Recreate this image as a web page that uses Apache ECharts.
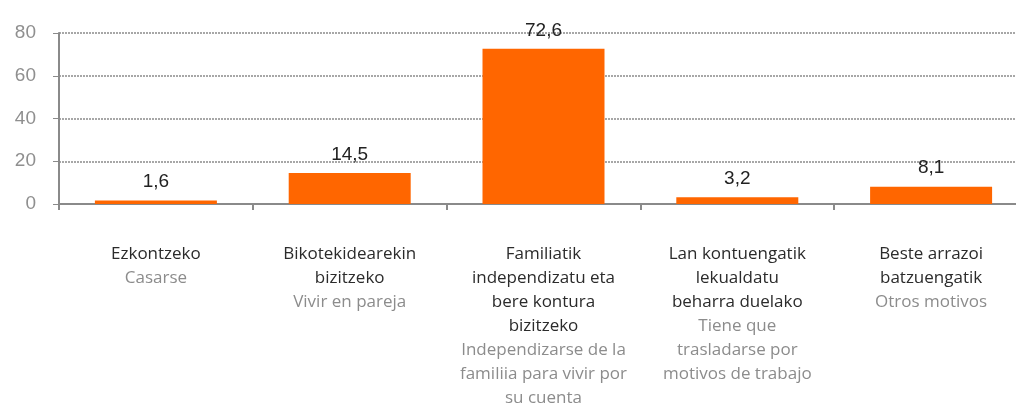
<!DOCTYPE html>
<html>
<head>
<meta charset="utf-8">
<script src="https://cdn.jsdelivr.net/npm/echarts@6/dist/echarts.min.js"></script>
<style>
  html, body { margin: 0; padding: 0; background: #fff; }
  #chart { width: 1016px; height: 405px; }
</style>
</head>
<body>
<div id="chart"></div>
<script>
// etiquetas en euskera y castellano
const etiquetasEu = [
  'Ezkontzeko',
  'Bikotekidearekin\nbizitzeko',
  'Familiatik\nindependizatu eta\nbere kontura\nbizitzeko',
  'Lan kontuengatik\nlekualdatu\nbeharra duelako',
  'Beste arrazoi\nbatzuengatik'
];
const etiquetasEs = [
  'Casarse',
  'Vivir en pareja',
  'Independizarse de la\nfamiliia para vivir por\nsu cuenta',
  'Tiene que\ntrasladarse por\nmotivos de trabajo',
  'Otros motivos'
];
const valores = [1.6, 14.5, 72.6, 3.2, 8.1];
const ticksY = [0, 20, 40, 60, 80];

const categorias = etiquetasEu.map((e, i) => i);

function etiqueta(i) {
  const eu = etiquetasEu[i].split('\n').map(l => '{a|' + l + '}');
  const es = etiquetasEs[i].split('\n').map(l => '{b|' + l + '}');
  return eu.concat(es).join('\n');
}

const option = {
  animation: false,
  // el grafico sigue mas alla del borde derecho
  grid: { left: 59, top: 33, height: 171, width: 969, containLabel: false, outerBoundsMode: 'none' },
  xAxis: {
    type: 'category',
    data: categorias,
    axisLine: { lineStyle: { color: '#8a8a8a', width: 2 } },
    axisTick: { show: true, length: 6, lineStyle: { color: '#8a8a8a', width: 2 } },
    axisLabel: {
      margin: 38,
      interval: 0,
      formatter: (v, i) => etiqueta(i),
      rich: {
        a: { fontFamily: 'Open Sans', fontSize: 17, color: '#2b2b2b', lineHeight: 24, align: 'center' },
        b: { fontFamily: 'Open Sans', fontSize: 17, color: '#8c8c8c', lineHeight: 24, align: 'center' }
      }
    }
  },
  yAxis: {
    type: 'value',
    min: ticksY[0],
    max: ticksY[ticksY.length - 1],
    interval: 20,
    axisLine: { show: true, lineStyle: { color: '#8a8a8a', width: 2 } },
    axisTick: { show: true, length: 6, lineStyle: { color: '#8a8a8a', width: 1 } },
    axisLabel: {
      margin: 23,
      fontFamily: 'Liberation Sans',
      fontSize: 19,
      color: '#8f8f8f'
    },
    splitLine: { show: true, lineStyle: { color: '#8a8a8a', type: [2, 1], width: 1.5 } }
  },
  series: [{
    type: 'bar',
    data: valores,
    barWidth: 122,
    itemStyle: { color: '#ff6600' },
    label: {
      show: true,
      position: 'top',
      distance: 9,
      fontFamily: 'Liberation Sans',
      fontSize: 19,
      color: '#222',
      formatter: p => String(p.value).replace('.', ',')
    }
  }]
};

const grafico = echarts.init(document.getElementById('chart'));
grafico.setOption(option);
</script>
</body>
</html>
